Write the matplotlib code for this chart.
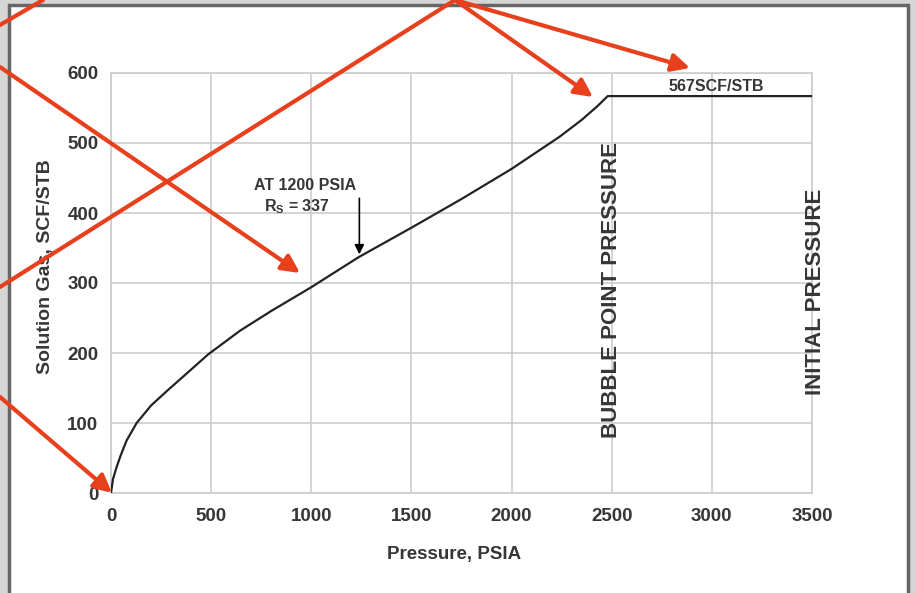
"""Solution gas vs pressure chart, with the red overlay arrows of the slide."""

import matplotlib

matplotlib.use("Agg")
import matplotlib.pyplot as plt
from matplotlib.patches import FancyArrowPatch, Rectangle

# data
pressure = [0, 10, 28, 50, 78, 128, 200, 280, 375, 485, 645, 800, 1000,
            1237, 1500, 1750, 2000, 2240, 2350, 2430, 2480, 3500]
solution_gas = [0, 20, 37, 55, 75, 100, 125, 146, 170, 198, 232, 260, 294,
                337, 379, 420, 463, 509, 533, 553, 567, 567]
x_ticks = [0, 500, 1000, 1500, 2000, 2500, 3000, 3500]
y_ticks = [0, 100, 200, 300, 400, 500, 600]

W, H = 916, 593
TEXT = "#363636"
GRID = "#cdcdcd"
RED = "#e8401c"

plt.rcParams["font.family"] = ["Liberation Sans", "DejaVu Sans"]
plt.rcParams["mathtext.default"] = "regular"


def fig_xy(px, py):
    # screen pixels (top-left origin) -> figure fraction
    return px / W, 1 - py / H


fig = plt.figure(figsize=(W / 100, H / 100), dpi=100)
fig.patch.set_facecolor("#d6d6d6")

# slide frame
x0, y0 = fig_xy(9, H + 10)
x1, y1 = fig_xy(908, 5)
fig.add_artist(Rectangle((x0, y0), x1 - x0, y1 - y0, transform=fig.transFigure,
                         facecolor="white", edgecolor="#666666", linewidth=2.5, zorder=-5))

ax = fig.add_axes([111 / W, 1 - 493 / H, 701 / W, 420 / H])
ax.set_facecolor("white")
ax.plot(pressure, solution_gas, color="#222222", linewidth=1.6, zorder=3)

ax.set_xlim(0, 3500)
ax.set_ylim(0, 600)
ax.set_xticks(x_ticks)
ax.set_yticks(y_ticks)
ax.grid(True, color=GRID, linewidth=1.2)
for spine in ax.spines.values():
    spine.set_color(GRID)
    spine.set_linewidth(1.2)
ax.tick_params(length=0, labelsize=13.5, labelcolor=TEXT)
ax.tick_params(axis="x", pad=11)
ax.tick_params(axis="y", pad=9)
for label in ax.get_xticklabels() + ax.get_yticklabels():
    label.set_fontweight("bold")

ax.set_xlabel("Pressure, PSIA", fontsize=13.5, color=TEXT, fontweight="bold")
ax.set_ylabel("Solution Gas, SCF/STB", fontsize=14, color=TEXT, fontweight="bold")
ax.xaxis.set_label_coords(0.49, -0.125)
ax.yaxis.set_label_coords(-0.082, 0.54)

ax.text(2500, 290, "BUBBLE POINT PRESSURE", rotation=90, ha="center", va="center",
        fontsize=16, color=TEXT, fontweight="bold")
ax.text(3515, 287, "INITIAL PRESSURE", rotation=90, ha="center", va="center",
        fontsize=16, color=TEXT, fontweight="bold")
ax.text(3020, 580, "567SCF/STB", ha="center", va="center", fontsize=11.5, color=TEXT,
        fontweight="bold")
ax.text(969, 439, "AT 1200 PSIA", ha="center", va="center", fontsize=11.5, color=TEXT,
        fontweight="bold")
ax.text(929, 409, r"R$_S$ = 337", ha="center", va="center", fontsize=11.5, color=TEXT,
        fontweight="bold")
ax.annotate("", xy=(1240, 337), xytext=(1240, 425),
            arrowprops=dict(arrowstyle="-|>", color="black", lw=1.2, mutation_scale=14))

# red overlay arrows (screen pixels)
red_arrows = [
    ((455, 0), (593, 97), True),
    ((455, 0), (690, 68), True),
    ((455, 0), (0, 287), False),
    ((0, 67), (300, 273), True),
    ((0, 397), (112, 493), True),
    ((0, 25), (43, 0), False),
]
for start, end, head in red_arrows:
    fig.add_artist(FancyArrowPatch(fig_xy(*start), fig_xy(*end), transform=fig.transFigure,
                                   arrowstyle="-|>" if head else "-", mutation_scale=27,
                                   color=RED, linewidth=3, shrinkA=0, shrinkB=0, zorder=10))

fig.savefig("out.png", dpi=100, facecolor=fig.get_facecolor())
